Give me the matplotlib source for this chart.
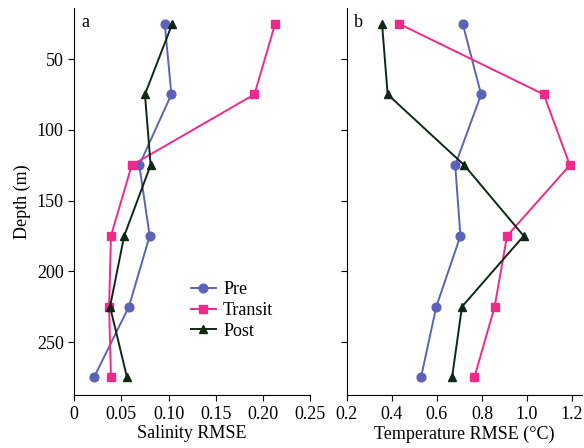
import matplotlib
matplotlib.use("Agg")
import matplotlib.pyplot as plt

plt.rcParams['font.family'] = ['Liberation Serif', 'DejaVu Serif']

depth = [25, 75, 125, 175, 225, 275]
sal_pre = [0.096, 0.103, 0.069, 0.080, 0.058, 0.021]
sal_transit = [0.213, 0.191, 0.061, 0.039, 0.037, 0.039]
sal_post = [0.104, 0.075, 0.081, 0.053, 0.038, 0.056]
tmp_pre = [0.714, 0.796, 0.681, 0.704, 0.597, 0.529]
tmp_transit = [0.430, 1.074, 1.190, 0.911, 0.856, 0.766]
tmp_post = [0.356, 0.381, 0.721, 0.985, 0.711, 0.667]
labels = ['Pre', 'Transit', 'Post']
colors = ['#5c62b8', '#ee2a8c', '#0f2814']
markers = ['o', 's', '^']

fig = plt.figure(figsize=(5.84, 4.48), dpi=100)
ax1 = fig.add_axes([0.127, 0.118, 0.404, 0.864])
ax2 = fig.add_axes([0.594, 0.118, 0.403, 0.864])

for ax, series in [(ax1, [sal_pre, sal_transit, sal_post]), (ax2, [tmp_pre, tmp_transit, tmp_post])]:
    for vals, lab, c, m in zip(series, labels, colors, markers):
        ax.plot(vals, depth, color=c, marker=m, markersize=6.3 if m != 's' else 5.8,
                linewidth=1.4, label=lab)
    ax.set_ylim(287.5, 14)
    ax.spines['top'].set_visible(False)
    ax.spines['right'].set_visible(False)
    ax.set_yticks([50, 100, 150, 200, 250])
    ax.tick_params(labelsize=13, direction='out', length=4)

ax1.set_xlim(0, 0.25)
ax1.set_xticks([0, 0.05, 0.10, 0.15, 0.20, 0.25])
ax1.set_xticklabels(['0', '0.05', '0.10', '0.15', '0.20', '0.25'])
ax2.set_xlim(0.2, 1.245)
ax2.set_xticks([0.2, 0.4, 0.6, 0.8, 1.0, 1.2])
ax2.set_xticklabels(['0.2', '0.4', '0.6', '0.8', '1.0', '1.2'])
ax2.set_yticklabels([])

ax1.set_xlabel('Salinity RMSE', fontsize=13, labelpad=2)
ax2.set_xlabel('Temperature RMSE (°C)', fontsize=13, labelpad=2)
ax1.set_ylabel('Depth (m)', fontsize=13, labelpad=4)

ax1.text(0.03, 0.985, 'a', transform=ax1.transAxes, fontsize=13, va='top', ha='left')
ax2.text(0.03, 0.985, 'b', transform=ax2.transAxes, fontsize=13, va='top', ha='left')

ax1.legend(loc='lower left', bbox_to_anchor=(0.455, 0.12), frameon=False, fontsize=13,
           handlelength=1.4, handletextpad=0.4, labelspacing=0.2, borderpad=0)

fig.savefig('out.png', dpi=100)
